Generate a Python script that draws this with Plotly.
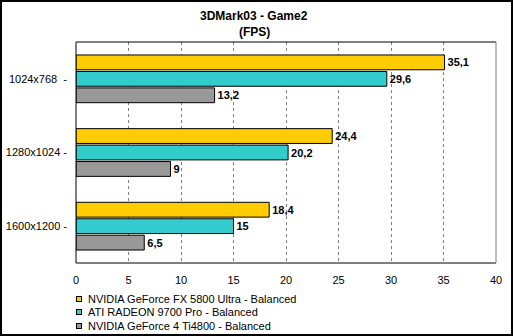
import plotly.graph_objects as go

categories = ["1024x768", "1280x1024", "1600x1200"]
tick_labels = ["1024x768  -", "1280x1024 -", "1600x1200 -"]
series_names = [
    "NVIDIA GeForce FX 5800 Ultra - Balanced",
    "ATI RADEON 9700 Pro - Balanced",
    "NVIDIA GeForce 4 Ti4800 - Balanced",
]
fx5800 = [35.1, 24.4, 18.4]
r9700 = [29.6, 20.2, 15]
ti4800 = [13.2, 9, 6.5]
colors = ["#FFCC00", "#33CCCC", "#999999"]
x_ticks = [0, 5, 10, 15, 20, 25, 30, 35, 40]
title_lines = ["3DMark03 - Game2", "(FPS)"]

FONT = "Liberation Sans"
W, H = 513, 336
ML, MR, MT, MB = 76, 17, 42, 73
PW, PH = W - ML - MR, H - MT - MB

def px_x(px):
    return (px - ML) / PW

def px_y(py):
    return (MT + PH - py) / PH

def fmt(v):
    return f"{v:g}".replace(".", ",")

fig = go.Figure()
for name, vals, col in zip(series_names, [fx5800, r9700, ti4800], colors):
    fig.add_trace(go.Bar(
        y=categories, x=vals, orientation="h", name=name,
        marker=dict(color=col, line=dict(color="black", width=1)),
        text=[fmt(v) for v in vals], textposition="outside",
        textfont=dict(family=FONT, size=11, color="black", weight="bold"),
        cliponaxis=False, showlegend=False,
    ))

annotations = []
for i, t in enumerate(title_lines):
    annotations.append(dict(
        text=f"<b>{t}</b>", xref="paper", yref="paper", x=px_x(254), y=px_y(16 + 16 * i),
        xanchor="center", yanchor="middle", showarrow=False,
        font=dict(family=FONT, size=12, color="black")))
for i, (name, col) in enumerate(zip(series_names, colors)):
    yc = 298.5 + 13.5 * i
    annotations.append(dict(
        text="", xref="paper", yref="paper", x=px_x(78.5), y=px_y(yc),
        xanchor="center", yanchor="middle", showarrow=False, width=4, height=4,
        bgcolor=col, bordercolor="black", borderwidth=1, borderpad=0))
    annotations.append(dict(
        text=name, xref="paper", yref="paper", x=px_x(86), y=px_y(yc),
        xanchor="left", yanchor="middle", showarrow=False,
        font=dict(family=FONT, size=11, color="black")))

fig.update_layout(
    width=W, height=H,
    margin=dict(l=ML, r=MR, t=MT, b=MB, autoexpand=False),
    paper_bgcolor="white", plot_bgcolor="white",
    barmode="group", bargap=0.33, bargroupgap=0.1,
    font=dict(family=FONT, size=11, color="black"),
    showlegend=False,
    xaxis=dict(range=[0, 40], tickvals=x_ticks, showgrid=True, gridcolor="#808080",
               griddash="dot", gridwidth=1, zeroline=False, showline=False,
               ticks="", ticklabelstandoff=9, tickfont=dict(family=FONT, size=11)),
    yaxis=dict(categoryorder="array", categoryarray=categories, autorange="reversed",
               tickvals=categories, ticktext=tick_labels, showgrid=False, zeroline=False,
               showline=False, ticks="", ticklabelstandoff=8, tickfont=dict(family=FONT, size=11)),
    annotations=annotations,
    shapes=[
        dict(type="line", xref="paper", yref="paper", x0=0, x1=1, y0=1, y1=1,
             line=dict(color="black", width=1)),
        dict(type="line", xref="paper", yref="paper", x0=0, x1=0, y0=0, y1=1,
             line=dict(color="black", width=1)),
        dict(type="line", xref="paper", yref="paper", x0=0, x1=1, y0=0, y1=0,
             line=dict(color="black", width=1)),
        dict(type="line", xref="paper", yref="paper", x0=1, x1=1, y0=0, y1=1,
             line=dict(color="#808080", width=1)),
        dict(type="rect", xref="paper", yref="paper",
             x0=(-ML + 1) / PW, x1=(PW + MR - 1) / PW,
             y0=(-MB + 1) / PH, y1=(PH + MT - 1) / PH,
             line=dict(color="black", width=2)),
    ],
)
fig.write_html("out.html")
